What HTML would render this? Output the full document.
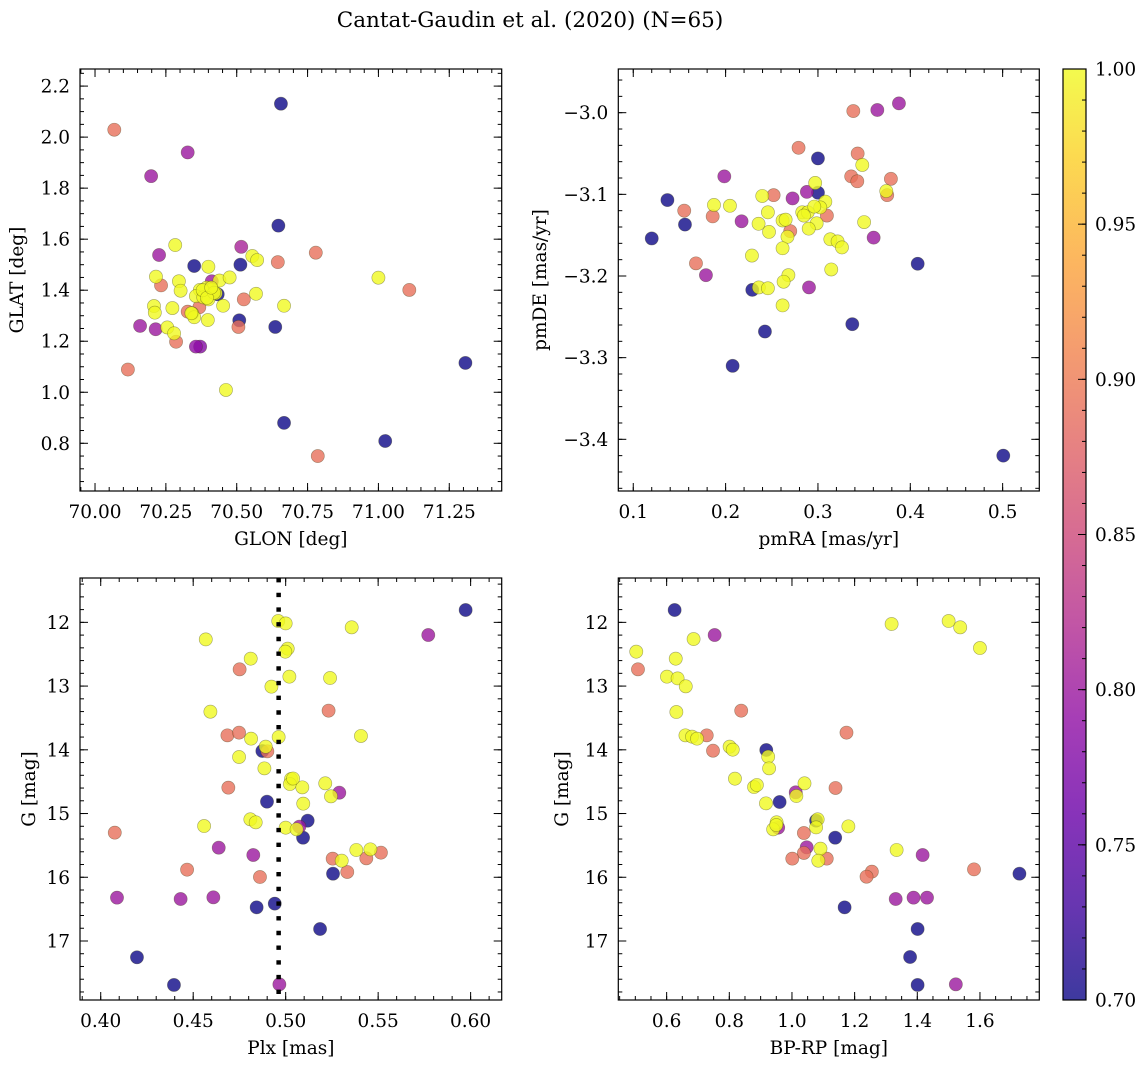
<!DOCTYPE html>
<html><head><meta charset="utf-8"><style>
html,body{margin:0;padding:0;background:#fff;}
svg{display:block;font-family:"DejaVu Serif","Liberation Serif",serif;}
</style></head><body>
<svg id="fig" width="1148" height="1068" viewBox="0 0 1148 1068" xmlns="http://www.w3.org/2000/svg">
<defs>
<linearGradient id="plasmaGrad" x1="0" y1="1" x2="0" y2="0">
<stop offset="0" stop-color="#0d0887"/><stop offset="0.1" stop-color="#41049d"/><stop offset="0.2" stop-color="#6a00a8"/><stop offset="0.3" stop-color="#8f0da4"/><stop offset="0.4" stop-color="#b12a90"/><stop offset="0.5" stop-color="#cc4778"/><stop offset="0.6" stop-color="#e16462"/><stop offset="0.7" stop-color="#f2844b"/><stop offset="0.8" stop-color="#fca636"/><stop offset="0.9" stop-color="#fcce25"/><stop offset="1" stop-color="#f0f921"/>
</linearGradient>
</defs>
<text x="530" y="27" text-anchor="middle" font-size="21.5">Cantat-Gaudin et al. (2020) (N=65)</text>
</svg>
<script>
// ---- Panel 1: GLON vs GLAT ----
const p1x=[70.656,70.068,70.327,70.198,70.647,70.283,70.516,70.226,70.555,70.572,70.779,70.645,70.350,70.400,70.513,70.215,70.233,70.296,70.302,70.412,70.439,70.475,71.000,71.109,70.394,70.370,70.356,70.412,70.433,70.426,70.382,70.400,70.568,70.525,70.452,70.667,70.208,70.273,70.211,70.327,70.368,70.343,70.350,70.398,70.509,70.506,70.636,70.159,70.214,70.255,70.279,70.286,70.356,70.371,70.116,71.307,70.462,70.667,71.024,70.786,70.380,70.420,70.340,70.395,70.410];
const p1y=[2.131,2.029,1.940,1.847,1.653,1.577,1.570,1.538,1.534,1.518,1.547,1.510,1.495,1.492,1.500,1.453,1.419,1.435,1.398,1.435,1.438,1.450,1.449,1.401,1.410,1.401,1.377,1.403,1.384,1.388,1.372,1.364,1.386,1.364,1.339,1.339,1.338,1.330,1.312,1.316,1.333,1.309,1.294,1.283,1.282,1.256,1.256,1.260,1.247,1.254,1.231,1.198,1.179,1.179,1.089,1.115,1.009,0.880,0.809,0.750,1.400,1.390,1.310,1.370,1.410];
const p1c=[0.70,0.89,0.80,0.80,0.70,1.0,0.81,0.80,1.0,1.0,0.89,0.89,0.70,1.0,0.70,1.0,0.89,1.0,1.0,0.80,1.0,1.0,1.0,0.89,1.0,1.0,1.0,1.0,0.70,1.0,1.0,1.0,1.0,0.89,1.0,1.0,1.0,1.0,1.0,0.89,0.89,1.0,1.0,1.0,0.70,0.89,0.70,0.80,0.80,1.0,1.0,0.89,0.79,0.78,0.89,0.70,1.0,0.70,0.70,0.89,1.0,1.0,1.0,1.0,1.0];
const p1xt=[70.00,70.25,70.50,70.75,71.00,71.25];
const p1xl=["70.00","70.25","70.50","70.75","71.00","71.25"];
const p1yt=[0.8,1.0,1.2,1.4,1.6,1.8,2.0,2.2];
const p1yl=["0.8","1.0","1.2","1.4","1.6","1.8","2.0","2.2"];
// ---- Panel 2: pmRA vs pmDE ----
const p2x=[0.3877,0.3643,0.3383,0.279,0.300,0.343,0.348,0.1986,0.336,0.3426,0.379,0.297,0.375,0.374,0.300,0.288,0.137,0.2397,0.252,0.2725,0.308,0.1874,0.2047,0.1552,0.2458,0.3025,0.283,0.289,0.3097,0.186,0.2173,0.156,0.2357,0.2617,0.265,0.2986,0.290,0.350,0.247,0.270,0.267,0.120,0.3134,0.3213,0.326,0.3603,0.2617,0.2285,0.1679,0.408,0.3144,0.1787,0.268,0.2628,0.2903,0.2289,0.236,0.2458,0.2617,0.3372,0.2426,0.2076,0.5007,0.2848,0.296];
const p2y=[-2.9886,-2.9967,-2.998,-3.043,-3.056,-3.050,-3.064,-3.078,-3.078,-3.084,-3.081,-3.086,-3.101,-3.096,-3.098,-3.097,-3.107,-3.102,-3.101,-3.105,-3.109,-3.113,-3.114,-3.120,-3.122,-3.116,-3.122,-3.122,-3.126,-3.127,-3.133,-3.137,-3.136,-3.132,-3.131,-3.1355,-3.142,-3.134,-3.146,-3.145,-3.152,-3.154,-3.155,-3.1576,-3.165,-3.153,-3.166,-3.175,-3.1845,-3.185,-3.192,-3.199,-3.199,-3.207,-3.214,-3.217,-3.214,-3.215,-3.236,-3.259,-3.268,-3.310,-3.420,-3.126,-3.115];
const p2c=[0.80,0.80,0.89,0.89,0.70,0.89,1.0,0.80,0.89,0.89,0.89,1.0,0.89,1.0,0.70,0.80,0.70,1.0,0.89,0.80,1.0,1.0,1.0,0.89,1.0,1.0,1.0,1.0,0.89,0.89,0.80,0.70,1.0,1.0,1.0,1.0,1.0,1.0,1.0,0.89,1.0,0.70,1.0,1.0,1.0,0.80,1.0,1.0,0.89,0.70,1.0,0.80,1.0,1.0,0.80,0.70,1.0,1.0,1.0,0.70,0.70,0.70,0.70,1.0,1.0];
const p2xt=[0.1,0.2,0.3,0.4,0.5];
const p2xl=["0.1","0.2","0.3","0.4","0.5"];
const p2yt=[-3.4,-3.3,-3.2,-3.1,-3.0];
const p2yl=["\u22123.4","\u22123.3","\u22123.2","\u22123.1","\u22123.0"];
// ---- Panel 3: Plx vs G ----
const p3x=[0.5973,0.5771,0.4960,0.5000,0.5357,0.4568,0.5011,0.4998,0.4811,0.4751,0.5020,0.5240,0.4923,0.4593,0.5232,0.4685,0.4748,0.4813,0.4962,0.5407,0.4874,0.4901,0.4892,0.4748,0.4885,0.5029,0.5023,0.5090,0.5214,0.5290,0.5245,0.4690,0.5095,0.4899,0.5119,0.4809,0.4838,0.4559,0.4076,0.5000,0.5074,0.5059,0.5094,0.4638,0.4825,0.5254,0.5382,0.5458,0.5515,0.5436,0.5303,0.5333,0.5256,0.4467,0.4861,0.4088,0.4432,0.4609,0.4941,0.4843,0.5186,0.4196,0.4396,0.4966,0.5040];
const p3y=[11.806,12.199,11.979,12.016,12.078,12.267,12.413,12.460,12.570,12.737,12.852,12.873,13.009,13.402,13.386,13.773,13.731,13.825,13.799,13.783,14.019,14.024,13.951,14.113,14.291,14.458,14.537,14.589,14.526,14.673,14.730,14.594,14.845,14.814,15.112,15.091,15.138,15.196,15.300,15.222,15.206,15.248,15.379,15.536,15.651,15.708,15.572,15.562,15.614,15.703,15.740,15.917,15.944,15.881,15.996,16.320,16.341,16.315,16.414,16.472,16.812,17.256,17.690,17.680,14.450];
const p3c=[0.70,0.80,1.0,1.0,1.0,1.0,1.0,1.0,1.0,0.89,1.0,1.0,1.0,1.0,0.89,0.89,0.89,1.0,1.0,1.0,0.70,0.89,1.0,1.0,1.0,1.0,1.0,1.0,1.0,0.80,1.0,0.89,1.0,0.70,0.70,1.0,1.0,1.0,0.89,1.0,0.80,1.0,0.70,0.80,0.80,0.89,1.0,1.0,0.89,0.89,1.0,0.89,0.70,0.89,0.89,0.80,0.80,0.80,0.70,0.70,0.70,0.70,0.70,0.80,1.0];
const p3xt=[0.40,0.45,0.50,0.55,0.60];
const p3xl=["0.40","0.45","0.50","0.55","0.60"];
const p3vline=[0.4962];
// ---- Panel 4: BP-RP vs G ----
const p4x=[0.6255,0.7532,1.318,1.500,1.537,1.600,0.686,0.503,0.629,0.5085,0.601,0.635,0.661,0.631,0.838,1.174,0.660,0.681,0.697,0.728,0.748,0.801,0.811,0.918,0.924,0.927,0.818,0.879,0.888,1.040,1.139,1.012,1.014,0.917,0.9606,1.077,1.082,1.077,0.951,0.956,0.940,1.180,1.038,1.138,1.047,1.038,1.091,1.001,1.111,1.084,1.334,1.417,1.255,1.238,1.581,1.726,1.331,1.388,1.431,1.168,1.401,1.377,1.401,1.523,0.950];
const p4y=[11.806,12.199,12.026,11.979,12.078,12.403,12.262,12.460,12.570,12.737,12.852,12.879,13.004,13.407,13.386,13.731,13.773,13.794,13.825,13.773,14.014,13.951,13.998,14.003,14.108,14.291,14.453,14.584,14.552,14.526,14.599,14.667,14.725,14.840,14.819,15.112,15.091,15.217,15.138,15.222,15.248,15.201,15.306,15.379,15.530,15.619,15.551,15.708,15.708,15.740,15.572,15.651,15.912,15.991,15.876,15.944,16.341,16.320,16.320,16.472,16.812,17.251,17.690,17.680,15.180];
const p4c=[0.70,0.80,1.0,1.0,1.0,1.0,1.0,1.0,1.0,0.89,1.0,1.0,1.0,1.0,0.89,0.89,1.0,1.0,1.0,0.89,0.89,1.0,1.0,0.70,1.0,1.0,1.0,1.0,1.0,1.0,0.89,0.80,1.0,1.0,0.70,0.70,1.0,1.0,1.0,0.80,1.0,1.0,0.89,0.70,0.80,0.89,1.0,0.89,0.89,1.0,1.0,0.80,0.89,0.89,0.89,0.70,0.80,0.80,0.80,0.70,0.70,0.70,0.70,0.80,1.0];
const p4xt=[0.6,0.8,1.0,1.2,1.4,1.6];
const p4xl=["0.6","0.8","1.0","1.2","1.4","1.6"];
const gyt=[12,13,14,15,16,17];
const gyl=["12","13","14","15","16","17"];
// ---- Colorbar ----
const cbt=[0.70,0.75,0.80,0.85,0.90,0.95,1.00];
const cbl=["0.70","0.75","0.80","0.85","0.90","0.95","1.00"];

const NS="http://www.w3.org/2000/svg";
const svg=document.getElementById('fig');
const TF=18.5, LF=18.5;
function el(tag,attrs,parent){const e=document.createElementNS(NS,tag);for(const k in attrs)e.setAttribute(k,attrs[k]);(parent||svg).appendChild(e);return e;}
const stops=[[13,8,135],[65,4,157],[106,0,168],[143,13,164],[177,42,144],[204,71,120],[225,100,98],[242,132,75],[252,166,54],[252,206,37],[240,249,33]];
function plasma(t){t=Math.max(0,Math.min(1,t));const f=t*10;const i=Math.min(9,Math.floor(f));const r=f-i;const a=stops[i],b=stops[i+1];return 'rgb('+[0,1,2].map(k=>Math.round(a[k]+(b[k]-a[k])*r)).join(',')+')';}
function cnorm(v){return (v-0.70)/0.30;}

function panel(o){
  const g=el('g',{});
  
  
  const sx=v=>o.L+(v-o.x0)/(o.x1-o.x0)*o.W;
  const sy=v=>o.T+(v-o.y0)/(o.y1-o.y0)*o.H;
  const B=o.T+o.H,R=o.L+o.W;
  const ticks=el('g',{stroke:'#000','stroke-width':1},g);
  
  
  const xmin=Math.min(o.x0,o.x1),xmax=Math.max(o.x0,o.x1),ymin=Math.min(o.y0,o.y1),ymax=Math.max(o.y0,o.y1);
  for(let v=Math.ceil(xmin/o.xm-1e-6)*o.xm;v<=xmax+1e-9;v+=o.xm){const x=sx(v);el('line',{x1:x,y1:B,x2:x,y2:B-4},ticks);el('line',{x1:x,y1:o.T,x2:x,y2:o.T+4},ticks);}
  for(let v=Math.ceil(ymin/o.ym-1e-6)*o.ym;v<=ymax+1e-9;v+=o.ym){const y=sy(v);el('line',{x1:o.L,y1:y,x2:o.L+4,y2:y},ticks);el('line',{x1:R,y1:y,x2:R-4,y2:y},ticks);}
  o.xt.forEach((v,i)=>{const x=sx(v);el('line',{x1:x,y1:B,x2:x,y2:B-8},ticks);el('line',{x1:x,y1:o.T,x2:x,y2:o.T+8},ticks);
    const t=el('text',{x:x,y:B+27,'text-anchor':'middle','font-size':TF},g);t.textContent=o.xl[i];
    
    });
  o.yt.forEach((v,i)=>{const y=sy(v);el('line',{x1:o.L,y1:y,x2:o.L+8,y2:y},ticks);el('line',{x1:R,y1:y,x2:R-8,y2:y},ticks);
    const t=el('text',{x:o.L-10,y:y+6.5,'text-anchor':'end','font-size':TF},g);t.textContent=o.yl[i];
    
    });
  const idx=o.xs.map((_,i)=>i).sort((a,b)=>o.cs[a]-o.cs[b]);
  const pts=el('g',{},g);
  
  
  idx.forEach(i=>{const c=el('circle',{cx:sx(o.xs[i]),cy:sy(o.ys[i]),r:6.6,fill:plasma(cnorm(o.cs[i])),'fill-opacity':0.8,stroke:'rgba(60,60,20,0.45)','stroke-width':0.6},pts);
    
    });
  if(o.vline){o.vline.forEach(v=>{const l=el('line',{x1:sx(v),y1:o.T,x2:sx(v),y2:B,stroke:'#000','stroke-width':4.5,'stroke-dasharray':'4.4 10.3'},g);
    
    });}
  const f=el('rect',{x:o.L,y:o.T,width:o.W,height:o.H,fill:'none',stroke:'#000','stroke-width':1.2},g);
  
  
  const xt=el('text',{x:o.L+o.W/2,y:B+54,'text-anchor':'middle','font-size':LF},g);xt.textContent=o.xtitle;
  
  
  const yx=o.ytx;const yc=o.T+o.H/2;
  const yt=el('text',{x:yx,y:yc,'text-anchor':'middle','font-size':LF,transform:'rotate(-90 '+yx+' '+yc+')'},g);yt.textContent=o.ytitle;
  
  
}
panel({name:'glon-glat-panel',L:80,T:69,W:421.7,H:422,x0:69.947,x1:71.435,y0:2.267,y1:0.613,xt:p1xt,xl:p1xl,yt:p1yt,yl:p1yl,xm:0.05,ym:0.05,xs:p1x,ys:p1y,cs:p1c,xtitle:'GLON [deg]',ytitle:'GLAT [deg]',ytx:23});
panel({name:'pm-panel',L:618.3,T:69,W:421,H:422,x0:0.0838,x1:0.5397,y0:-2.9465,y1:-3.4633,xt:p2xt,xl:p2xl,yt:p2yt,yl:p2yl,xm:0.02,ym:0.02,xs:p2x,ys:p2y,cs:p2c,xtitle:'pmRA [mas/yr]',ytitle:'pmDE [mas/yr]',ytx:546});
panel({name:'plx-g-panel',L:80,T:578,W:421.7,H:422,x0:0.3888,x1:0.6168,y0:11.304,y1:17.926,xt:p3xt,xl:p3xl,yt:gyt,yl:gyl,xm:0.01,ym:0.2,xs:p3x,ys:p3y,cs:p3c,xtitle:'Plx [mas]',ytitle:'G [mag]',ytx:35,vline:p3vline});
panel({name:'cmd-panel',L:618.3,T:578,W:421,H:422,x0:0.4457,x1:1.7894,y0:11.304,y1:17.926,xt:p4xt,xl:p4xl,yt:gyt,yl:gyl,xm:0.05,ym:0.2,xs:p4x,ys:p4y,cs:p4c,xtitle:'BP-RP [mag]',ytitle:'G [mag]',ytx:568});

// colorbar
(function(){
  const L=1063,T=69,W=23,H=931;
  const g=el('g',{});
  
  
  el('rect',{x:L,y:T,width:W,height:H,fill:'url(#plasmaGrad)','fill-opacity':0.8},g);
  const sy=v=>T+H-(v-0.70)/0.30*H;
  for(let v=0.70;v<=1.0001;v+=0.01){const y=sy(v);el('line',{x1:L+W,y1:y,x2:L+W-4,y2:y,stroke:'#000','stroke-width':1},g);}
  cbt.forEach((v,i)=>{const y=sy(v);el('line',{x1:L+W,y1:y,x2:L+W-8,y2:y,stroke:'#000','stroke-width':1},g);
    const t=el('text',{x:L+W+9,y:y+6.5,'font-size':TF},g);t.textContent=cbl[i];
    
    });
  el('rect',{x:L,y:T,width:W,height:H,fill:'none',stroke:'#000','stroke-width':1.2},g);
})();
</script>
</body></html>
